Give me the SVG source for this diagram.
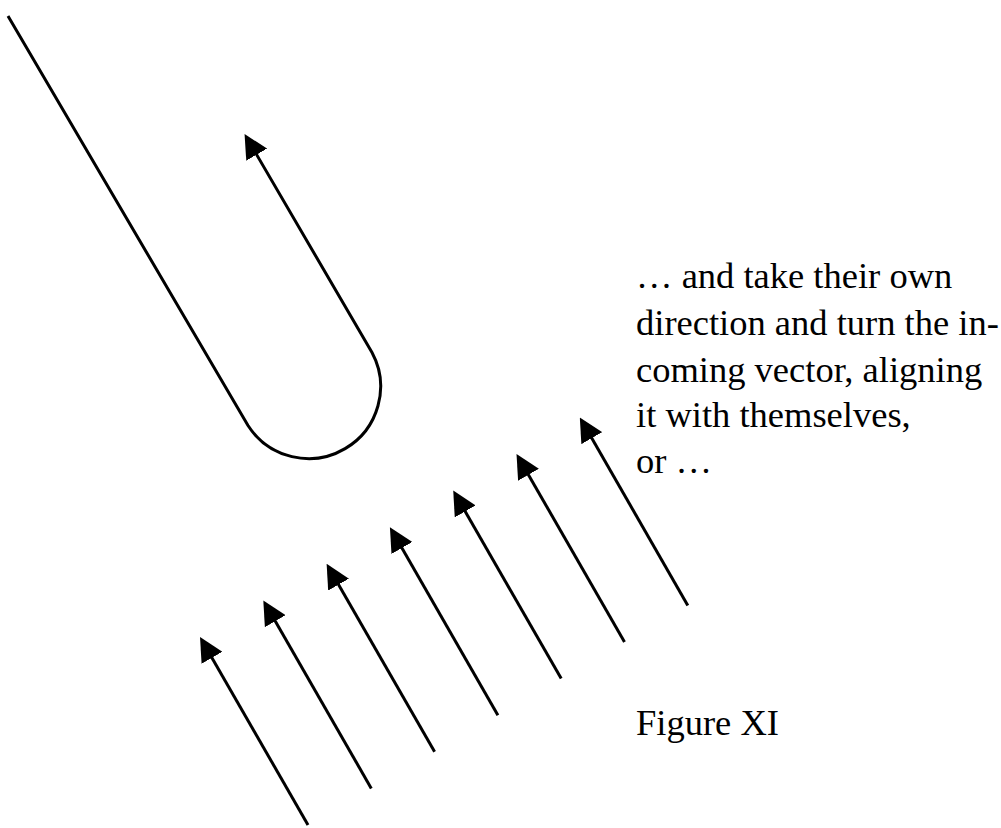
<svg xmlns="http://www.w3.org/2000/svg" width="1001" height="828" viewBox="0 0 1001 828">
<style>
.ln{fill:none;stroke:#000;stroke-width:3;marker-end:url(#ah)}
.tx{font-family:"Liberation Serif","Times New Roman",serif;font-size:36.5px;fill:#000}
</style>
<defs>
<marker id="ah" markerUnits="userSpaceOnUse" viewBox="0 0 24 24" markerWidth="24" markerHeight="24" refX="12" refY="12" orient="auto">
<path d="M0,0 L24,12 L0,24 z" fill="#000"/>
</marker>
</defs>
<rect width="1001" height="828" fill="#fff"/>
<g id="connectors">
<path id="uturn" class="ln" d="M8,16 L248,425.5 A72,72 0 0 0 372,352.5 L250.6,144.3"/>
<line class="ln" x1="308" y1="825" x2="206" y2="647.4"/>
<line class="ln" x1="371.3" y1="788.4" x2="269.3" y2="610.8"/>
<line class="ln" x1="434.6" y1="751.8" x2="332.6" y2="574.2"/>
<line class="ln" x1="497.9" y1="715.2" x2="395.9" y2="537.6"/>
<line class="ln" x1="561.2" y1="678.6" x2="459.2" y2="501"/>
<line class="ln" x1="624.5" y1="642" x2="522.5" y2="464.4"/>
<line class="ln" x1="687.8" y1="605.4" x2="585.8" y2="427.8"/>
</g>
<g id="caption">
<text class="tx" x="636" y="288">… and take their own</text>
<text class="tx" x="636" y="335">direction and turn the in-</text>
<text class="tx" x="636" y="382">coming vector, aligning</text>
<text class="tx" x="636" y="427">it with themselves,</text>
<text class="tx" x="636" y="473">or …</text>
</g>
<g id="figure-label">
<text class="tx" x="636" y="735">Figure XI</text>
</g>
</svg>
